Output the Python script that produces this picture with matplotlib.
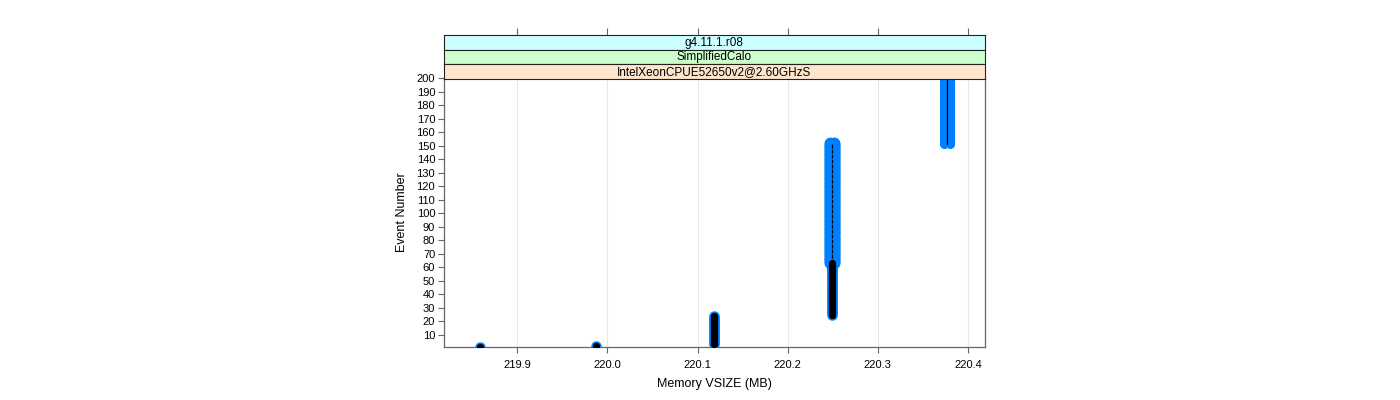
import matplotlib
matplotlib.use("Agg")
import matplotlib.pyplot as plt
import numpy as np

plt.rcParams['font.family'] = ['Liberation Sans', 'DejaVu Sans']

# events where the memory stays on one value (narrow trace, black core)
narrow_x = [219.858, 219.987, 220.118, 220.249]
narrow_first = [1, 2, 3, 25]
narrow_last = [1, 2, 24, 63]
# events alternating between two close values (wide blue trace)
wide_x = [220.249, 220.377]
wide_spread = [0.004, 0.007]
wide_first = [63, 151]
wide_last = [152, 205]

strips = ['g4.11.1.r08', 'SimplifiedCalo', 'IntelXeonCPUE52650v2@2.60GHzS']
strip_colors = ['#ccffff', '#ccffcc', '#ffe5cc']

xticks = [219.9, 220.0, 220.1, 220.2, 220.3, 220.4]
yticks = list(range(10, 201, 10))
xlim = (219.818, 220.419)
ylim = (1, 200)

blue = '#0080ff'
frame = '#666666'

fig = plt.figure(figsize=(14, 4), dpi=100)
W, H = 1400, 400
left, right, bottom, top = 443.5, 985, 347, 78
ax = fig.add_axes([left / W, 1 - bottom / H, (right - left) / W, (bottom - top) / H])

for x, a, b in zip(narrow_x, narrow_first, narrow_last):
    ev = np.arange(a, b + 1)
    ax.plot(np.full(len(ev), x), ev, 'o', color=blue, ms=6.5, mec=blue, zorder=3)
    ax.plot(np.full(len(ev), x), ev, 'o', color='black', ms=4.2, mec='black', zorder=5)

for i, (x, d, a, b) in enumerate(zip(wide_x, wide_spread, wide_first, wide_last)):
    ev = np.arange(a, b + 1)
    ms = 7.5 if i == 0 else 5.5
    for xx in (x - d / 2, x + d / 2):
        ax.plot(np.full(len(ev), xx), ev, 'o', color=blue, ms=ms, mec=blue, zorder=3)
    ls = (0, (3, 1)) if i == 0 else '-'
    ax.plot([x, x], [a, b], color='black', lw=0.9, ls=ls, zorder=4)

ax.set_xlim(*xlim)
ax.set_ylim(*ylim)
ax.set_xticks(xticks)
ax.set_xticklabels(['%.1f' % v for v in xticks])
ax.set_yticks(yticks)
ax.tick_params(axis='both', labelsize=8, length=4, color=frame, direction='out', pad=2)
ax.tick_params(axis='x', pad=5)
for v in xticks:
    ax.axvline(v, color='#e8e8e8', lw=0.8, zorder=0)
for s in ax.spines.values():
    s.set_color(frame)
    s.set_linewidth(0.9)
ax.set_xlabel('Memory VSIZE (MB)', fontsize=9, labelpad=6)
ax.set_ylabel('Event Number', fontsize=9, labelpad=6)

# strips above the panel
sh = 14.5
for i, (txt, c) in enumerate(zip(strips, strip_colors)):
    y0 = 35 + i * sh
    sax = fig.add_axes([left / W, 1 - (y0 + sh) / H, (right - left) / W, sh / H], facecolor=c)
    sax.set_xlim(*xlim)
    sax.set_yticks([])
    if i == 0:
        sax.set_xticks(xticks)
        sax.xaxis.tick_top()
        sax.tick_params(axis='x', labeltop=False, length=5, color=frame, direction='out')
    else:
        sax.set_xticks([])
    for s in sax.spines.values():
        s.set_color('#222222')
        s.set_linewidth(0.8)
    sax.text(0.5, 0.45, txt, transform=sax.transAxes, ha='center', va='center', fontsize=8.5)

fig.savefig('out.png', dpi=100)
